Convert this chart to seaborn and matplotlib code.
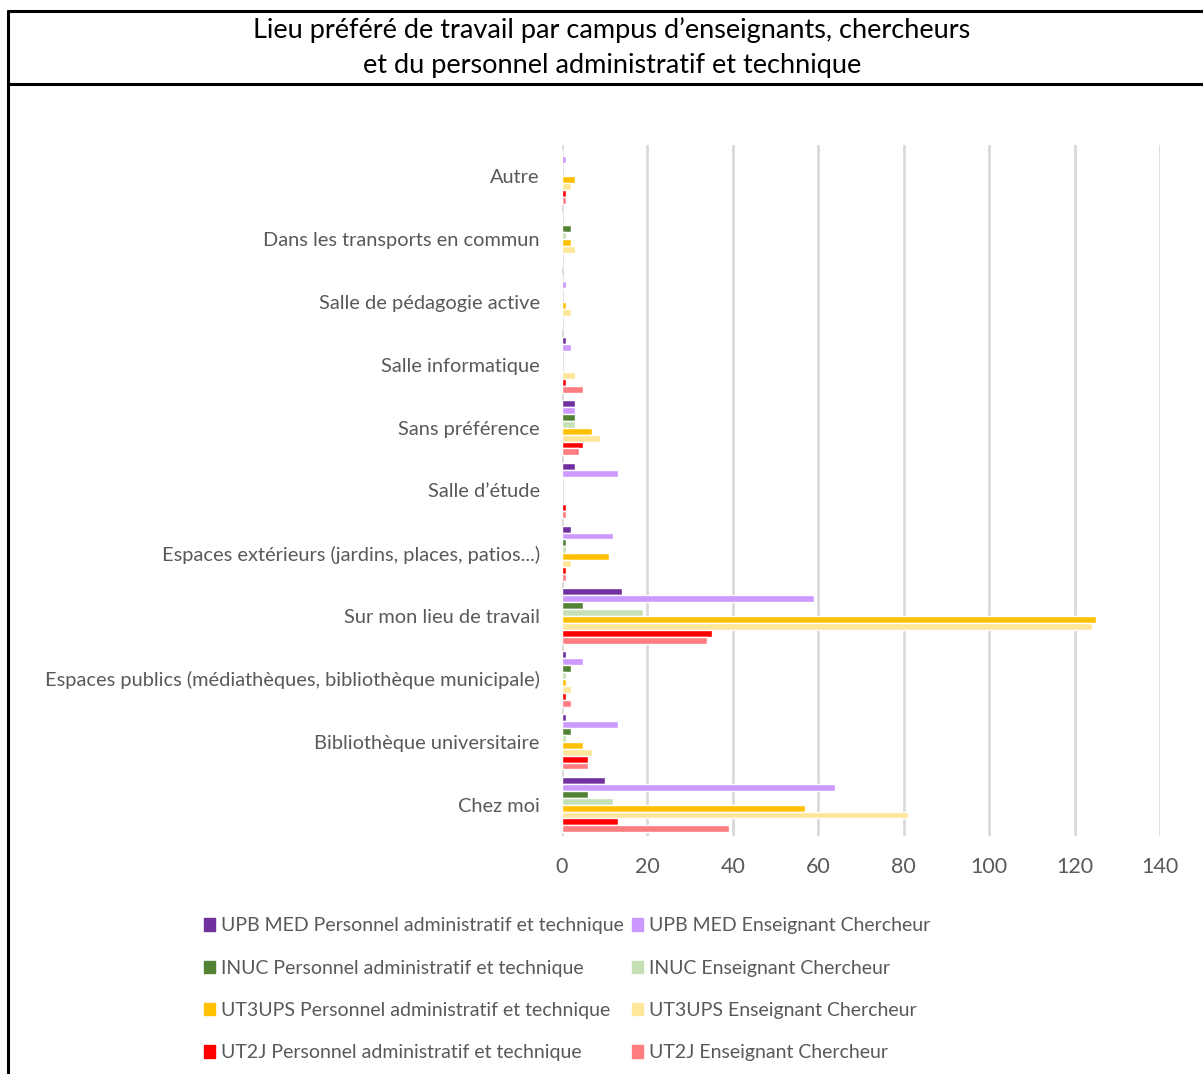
import matplotlib
matplotlib.use("Agg")
import matplotlib.pyplot as plt
import pandas as pd
import seaborn as sns
from matplotlib.lines import Line2D

categories = [
    "Autre",
    "Dans les transports en commun",
    "Salle de pédagogie active",
    "Salle informatique",
    "Sans préférence",
    "Salle d’étude",
    "Espaces extérieurs (jardins, places, patios...)",
    "Sur mon lieu de travail",
    "Espaces publics (médiathèques, bibliothèque municipale)",
    "Bibliothèque universitaire",
    "Chez moi",
]

series_names = [
    "UPB MED Personnel administratif et technique",
    "UPB MED Enseignant Chercheur",
    "INUC Personnel administratif et technique",
    "INUC Enseignant Chercheur",
    "UT3UPS Personnel administratif et technique",
    "UT3UPS Enseignant Chercheur",
    "UT2J Personnel administratif et technique",
    "UT2J Enseignant Chercheur",
]

# values per series, in the category order above (top to bottom)
upb_pat = [0, 0, 0, 1, 3, 3, 2, 14, 1, 1, 10]
upb_ec = [1, 0, 1, 2, 3, 13, 12, 59, 5, 13, 64]
inuc_pat = [0, 2, 0, 0, 3, 0, 1, 5, 2, 2, 6]
inuc_ec = [0, 1, 0, 0, 3, 0, 1, 19, 1, 1, 12]
ut3_pat = [3, 2, 1, 0, 7, 0, 11, 125, 1, 5, 57]
ut3_ec = [2, 3, 2, 3, 9, 0, 2, 124, 2, 7, 81]
ut2j_pat = [1, 0, 0, 1, 5, 1, 1, 35, 1, 6, 13]
ut2j_ec = [1, 0, 0, 5, 4, 1, 1, 34, 2, 6, 39]

colors = ["#7030A0", "#CC99FF", "#548235", "#C5E0B4",
          "#FFC000", "#FFE699", "#FF0000", "#FF7C80"]

xticks = [0, 20, 40, 60, 80, 100, 120, 140]

all_values = [upb_pat, upb_ec, inuc_pat, inuc_ec, ut3_pat, ut3_ec, ut2j_pat, ut2j_ec]
rows = []
for name, vals in zip(series_names, all_values):
    for cat, v in zip(categories, vals):
        rows.append({"lieu": cat, "serie": name, "n": v})
df = pd.DataFrame(rows)

sns.set_style("white")
plt.rcParams["font.family"] = ["Lato", "DejaVu Sans"]

W, H = 1203, 1074
fig = plt.figure(figsize=(W / 100, H / 100), dpi=100)
ax = fig.add_axes([562 / W, 1 - 836 / H, (1160 - 562) / W, (836 - 145) / H])

sns.barplot(
    data=df, y="lieu", x="n", hue="serie",
    order=categories, hue_order=series_names,
    palette=colors, orient="h", width=0.88,
    saturation=1, errorbar=None, legend=False, ax=ax,
)

ax.set_xlim(0, 140)
ax.set_xticks(xticks)
ax.set_xticklabels([str(t) for t in xticks])
ax.grid(axis="x", color="#D9D9D9", linewidth=2)
ax.set_axisbelow(True)
for s in ax.spines.values():
    s.set_visible(False)
ax.tick_params(axis="both", length=0)
ax.tick_params(axis="x", labelsize=15.5, colors="#595959", pad=15)
ax.tick_params(axis="y", labelsize=14.4, colors="#595959", pad=16)
ax.set_xlabel("")
ax.set_ylabel("")

# legend: two columns, staff on the left, teachers on the right
handles = [plt.Rectangle((0, 0), 1, 1, color=c) for c in colors]
order = [0, 2, 4, 6, 1, 3, 5, 7]
leg = fig.legend(
    [handles[i] for i in order], [series_names[i] for i in order],
    ncol=2, loc="upper left", bbox_to_anchor=(186 / W, 1 - 900 / H),
    frameon=False, fontsize=14, handlelength=0.6, handleheight=0.6,
    handletextpad=0.3, columnspacing=0.4, labelspacing=1.3,
)
for t in leg.get_texts():
    t.set_color("#595959")

fig.text(612 / W, 1 - 30 / H,
         "Lieu préféré de travail par campus d’enseignants, chercheurs",
         ha="center", va="center", fontsize=19.5, color="black")
fig.text(612 / W, 1 - 66 / H,
         "et du personnel administratif et technique",
         ha="center", va="center", fontsize=19.5, color="black")

# table-like border around the title
for xs, ys in [((8 / W, 1), (1 - 11 / H, 1 - 11 / H)),
               ((8 / W, 1), (1 - 84 / H, 1 - 84 / H)),
               ((8 / W, 8 / W), (1 - 11 / H, 0))]:
    fig.add_artist(Line2D(xs, ys, color="black", linewidth=2.2,
                          transform=fig.transFigure))

fig.savefig("out.png", dpi=100, facecolor="white")
